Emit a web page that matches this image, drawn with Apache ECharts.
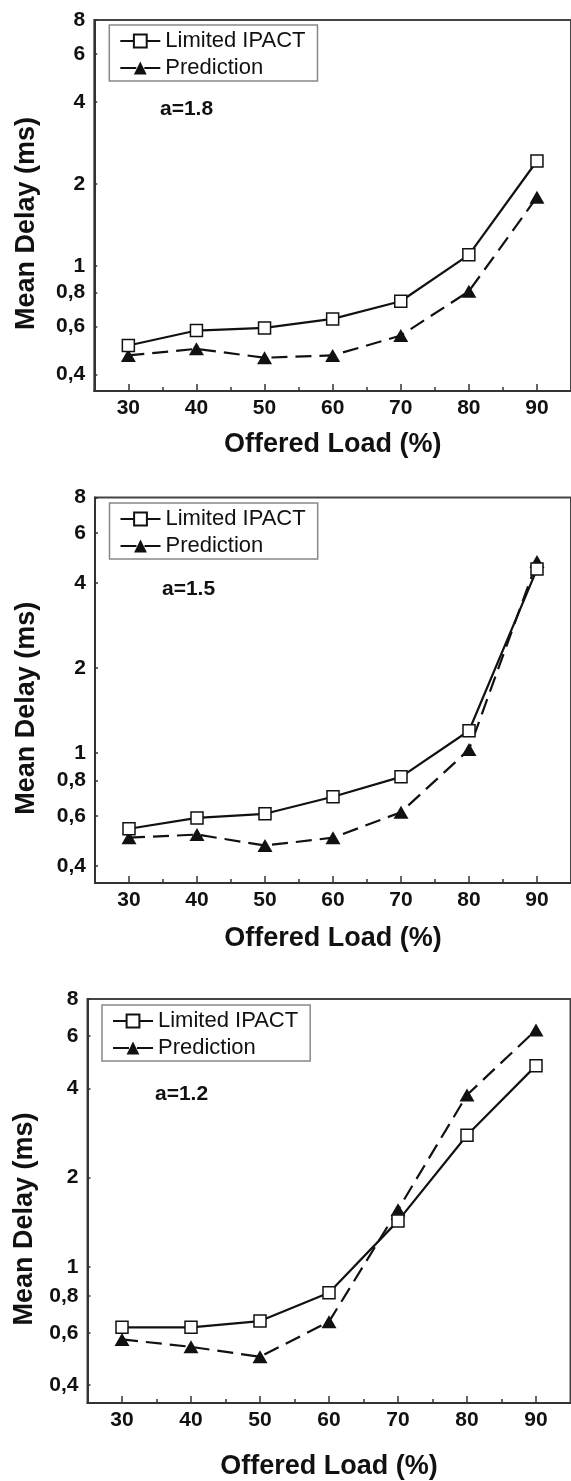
<!DOCTYPE html>
<html>
<head>
<meta charset="utf-8">
<script src="https://cdn.jsdelivr.net/npm/echarts@6/dist/echarts.min.js"></script>
<style>
html,body{margin:0;padding:0;background:#fff;}
#chart{width:571px;height:1481px;}
</style>
</head>
<body>
<div id="chart"></div>
<script>
// ---- data ----
const offeredLoad = [30, 40, 50, 60, 70, 80, 90];
const limitedA18 = [0.511, 0.580, 0.593, 0.640, 0.743, 1.10, 2.43];
const predA18    = [0.470, 0.497, 0.461, 0.470, 0.556, 0.808, 1.79];
const limitedA15 = [0.541, 0.591, 0.611, 0.702, 0.825, 1.20, 4.47];
const predA15    = [0.503, 0.516, 0.472, 0.503, 0.619, 1.03, 4.75];
const limitedA12 = [0.626, 0.626, 0.657, 0.819, 1.43, 2.78, 4.77];
const predA12    = [0.570, 0.538, 0.498, 0.654, 1.56, 3.80, 6.29];
const yTickValues = [0.4, 0.6, 0.8, 1, 2, 4, 6, 8];
const xTickValues = [30, 40, 50, 60, 70, 80, 90];
const xMinorTickValues = [35, 45, 55, 65, 75, 85];
const panelLabels = ['a=1.8', 'a=1.5', 'a=1.2'];
const seriesNames = ['Limited IPACT', 'Prediction'];
const xTitle = 'Offered Load (%)';
const yTitle = 'Mean Delay (ms)';

const panelData = [[limitedA18, predA18], [limitedA15, predA15], [limitedA12, predA12]];

// ---- layout (styles only) ----
const layout = [
  {left: 94.3, top: 20, width: 478.7, height: 371, xGap: 40, yGap: 54, label: [160, 98.5], legend: [109.3, 25]},
  {left: 95, top: 497.5, width: 478, height: 385.5, xGap: 42, yGap: 55, label: [162, 578.5], legend: [109.5, 503]},
  {left: 87.5, top: 999, width: 483, height: 404, xGap: 50, yGap: 47, label: [155, 1084], legend: [102, 1005]}
];

const FONT = 'Liberation Sans, Arial, Helvetica, sans-serif';
const AX = '#333';

const grids = [], xAxes = [], yAxes = [], series = [], legends = [], titles = [];
layout.forEach((L, i) => {
  grids.push({left: L.left, top: L.top, width: L.width, height: L.height,
    show: true, borderColor: '#444', borderWidth: 2, backgroundColor: 'transparent'});
  xAxes.push({
    type: 'value', gridIndex: i, min: 25, max: 95, position: 'bottom',
    name: xTitle, nameLocation: 'middle', nameGap: L.xGap,
    nameTextStyle: {fontFamily: FONT, fontSize: 27, fontWeight: 'bold', color: '#111'},
    axisLine: {show: true, lineStyle: {color: AX, width: 2}},
    axisTick: {show: true, inside: true, length: 7, customValues: xTickValues, lineStyle: {color: AX, width: 1.5}},
    axisLabel: {customValues: xTickValues, margin: 7, fontFamily: FONT, fontSize: 21, fontWeight: 'bold', color: '#111'},
    splitLine: {show: false}
  });
  xAxes.push({
    type: 'value', gridIndex: i, min: 25, max: 95, position: 'bottom',
    axisLine: {show: false},
    axisTick: {show: true, inside: true, length: 4, customValues: xMinorTickValues, lineStyle: {color: AX, width: 1.5}},
    axisLabel: {show: false},
    splitLine: {show: false}
  });
  yAxes.push({
    type: 'log', logBase: 10, gridIndex: i, min: 0.348, max: 8,
    name: yTitle, nameLocation: 'middle', nameRotate: 90, nameGap: L.yGap,
    nameTextStyle: {fontFamily: FONT, fontSize: 27, fontWeight: 'bold', color: '#111', padding: [0, 36, 0, 0]},
    axisLine: {show: true, lineStyle: {color: AX, width: 2}},
    axisTick: {show: true, inside: true, length: 3, customValues: yTickValues, lineStyle: {color: AX, width: 1.5}},
    axisLabel: {customValues: yTickValues, margin: 9, fontFamily: FONT, fontSize: 21, fontWeight: 'bold', color: '#111',
      formatter: v => String(+(+v).toFixed(2)).replace('.', ',')},
    splitLine: {show: false}, minorTick: {show: false}
  });
  const [lim, pred] = panelData[i];
  series.push({
    name: seriesNames[0], type: 'line', xAxisIndex: 2 * i, yAxisIndex: i,
    data: offeredLoad.map((x, j) => [x, lim[j]]),
    symbol: 'rect', symbolSize: 12, showAllSymbol: true,
    lineStyle: {color: '#111', width: 2.2},
    itemStyle: {color: '#fff', borderColor: '#111', borderWidth: 1.5},
    z: 3, animation: false
  });
  series.push({
    name: seriesNames[1], type: 'line', xAxisIndex: 2 * i, yAxisIndex: i,
    data: offeredLoad.map((x, j) => [x, pred[j]]),
    symbol: 'triangle', symbolSize: [15, 13], showAllSymbol: true,
    lineStyle: {color: '#111', width: 2.2, type: [16, 8]},
    itemStyle: {color: '#111', borderColor: '#111', borderWidth: 0},
    z: 2, animation: false
  });
  legends.push({
    data: seriesNames, orient: 'vertical', left: L.legend[0], top: L.legend[1],
    borderColor: '#888', borderWidth: 1.5, borderRadius: 0, padding: [4, 12, 1, 10],
    itemWidth: 40, itemHeight: 16, itemGap: 3, selectedMode: false,
    textStyle: {fontFamily: FONT, fontSize: 22, color: '#111', lineHeight: 24}
  });
  titles.push({
    text: panelLabels[i], left: L.label[0], top: L.label[1], padding: 0,
    textStyle: {fontFamily: FONT, fontSize: 21, fontWeight: 'bold', color: '#111'}
  });
});

const chart = echarts.init(document.getElementById('chart'), null, {renderer: 'canvas'});
chart.setOption({
  animation: false,
  backgroundColor: '#fff',
  title: titles,
  legend: legends,
  grid: grids,
  xAxis: xAxes,
  yAxis: yAxes,
  series: series
});
</script>
</body>
</html>
